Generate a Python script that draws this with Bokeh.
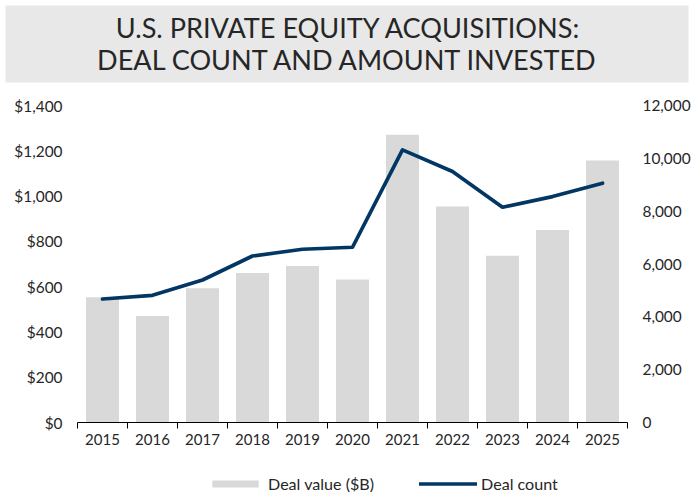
from bokeh.plotting import figure
from bokeh.models import (Range1d, LinearAxis, FixedTicker, NumeralTickFormatter,
                          Legend, LegendItem)
from bokeh.core.properties import value
from bokeh.embed import file_html
from bokeh.resources import INLINE

# ---- data ----
years = [2015, 2016, 2017, 2018, 2019, 2020, 2021, 2022, 2023, 2024, 2025]
deal_value = [553, 470, 593, 660, 691, 632, 1271, 954, 736, 850, 1157]
deal_count = [4674, 4814, 5394, 6304, 6558, 6634, 10322, 9500, 8150, 8552, 9060]
left_ticks = [0, 200, 400, 600, 800, 1000, 1200, 1400]
right_ticks = [0, 2000, 4000, 6000, 8000, 10000, 12000]
title_lines = ["U.S. PRIVATE EQUITY ACQUISITIONS:", "DEAL COUNT AND AMOUNT INVESTED"]
legend_labels = ["Deal value ($B)", "Deal count"]

FONT = "Lato"
TEXT_COLOR = "#262626"
BAR_COLOR = "#d9d9d9"
LINE_COLOR = "#023764"
BANNER_COLOR = "#e8e8e8"

W = 693

# ---- title banner ----
t = figure(width=W, height=84, x_range=Range1d(5, 688), y_range=Range1d(82, 5),
           output_backend="svg", toolbar_location=None,
           x_axis_location=None, y_axis_location=None,
           min_border_left=5, min_border_right=5, min_border_top=5, min_border_bottom=2)
t.grid.visible = False
t.outline_line_color = None
t.background_fill_color = BANNER_COLOR
t.border_fill_color = "white"
t.text(x=[348, 348], y=[27, 58.5], text=title_lines,
       text_font=value(FONT), text_font_size="27.1px", text_align="center",
       text_baseline="alphabetic", text_color=TEXT_COLOR)

# ---- main chart ----
p = figure(width=W, height=381, x_range=Range1d(years[0] - 0.5, years[-1] + 0.5),
           y_range=Range1d(left_ticks[0], left_ticks[-1]),
           output_backend="svg", toolbar_location=None,
           min_border_left=77, min_border_right=65, min_border_top=21, min_border_bottom=43)
p.extra_y_ranges = {"count": Range1d(right_ticks[0], right_ticks[-1])}
p.grid.visible = False
p.outline_line_color = None
p.background_fill_color = "white"
p.border_fill_color = "white"

bars = p.vbar(x=years, top=deal_value, width=0.66, fill_color=BAR_COLOR, line_color=None)
line = p.line(x=years, y=deal_count, y_range_name="count", line_color=LINE_COLOR,
              line_width=3.7, line_join="round", line_cap="round")

boundaries = [y - 0.5 for y in years] + [years[-1] + 0.5]

xa = p.xaxis[0]
xa.ticker = FixedTicker(ticks=years, minor_ticks=boundaries)
xa.formatter = NumeralTickFormatter(format="0")
xa.axis_line_color = "black"
xa.axis_line_width = 1
xa.major_tick_line_color = None
xa.major_tick_out = 0
xa.major_tick_in = 0
xa.minor_tick_line_color = "black"
xa.minor_tick_out = 6
xa.minor_tick_in = 0
xa.major_label_standoff = 5
xa.major_label_text_font = FONT
xa.major_label_text_font_size = "15px"
xa.major_label_text_color = TEXT_COLOR

ya = p.yaxis[0]
ya.ticker = FixedTicker(ticks=left_ticks)
ya.formatter = NumeralTickFormatter(format="$0,0")

ra = LinearAxis(y_range_name="count", ticker=FixedTicker(ticks=right_ticks),
                formatter=NumeralTickFormatter(format="0,0"))
p.add_layout(ra, "right")

for ax in (ya, ra):
    ax.axis_line_color = None
    ax.major_tick_line_color = None
    ax.minor_tick_line_color = None
    ax.major_tick_out = 0
    ax.major_tick_in = 0
    ax.major_label_standoff = 15
    ax.major_label_text_font = FONT
    ax.major_label_text_font_size = "15.4px"
    ax.major_label_text_color = TEXT_COLOR

# ---- legend strip (hidden copies of the series supply the legend glyphs) ----
lf = figure(width=W, height=30, x_range=Range1d(0, 1), y_range=Range1d(0, 1),
            output_backend="svg", toolbar_location=None,
            x_axis_location=None, y_axis_location=None, min_border=0)
lf.grid.visible = False
lf.outline_line_color = None
lf.background_fill_color = "white"
lf.border_fill_color = "white"
lbar = lf.vbar(x=years, top=deal_value, width=0.66, fill_color=BAR_COLOR,
               line_color=None, visible=False)
lline = lf.line(x=years, y=deal_count, line_color=LINE_COLOR, line_width=3.7,
                line_cap="round", visible=False)

legend = Legend(items=[LegendItem(label=legend_labels[0], renderers=[lbar]),
                       LegendItem(label=legend_labels[1], renderers=[lline])],
                orientation="horizontal", location=(206, 2),
                padding=0, margin=0, spacing=45,
                glyph_width=58, glyph_height=9, label_height=15, label_standoff=4,
                label_text_font=FONT, label_text_font_size="16.1px",
                label_text_color=TEXT_COLOR,
                inactive_fill_alpha=0,
                border_line_color=None, background_fill_alpha=0)
lf.add_layout(legend)

open("out.html", "w").write(file_html([t, p, lf], INLINE))
